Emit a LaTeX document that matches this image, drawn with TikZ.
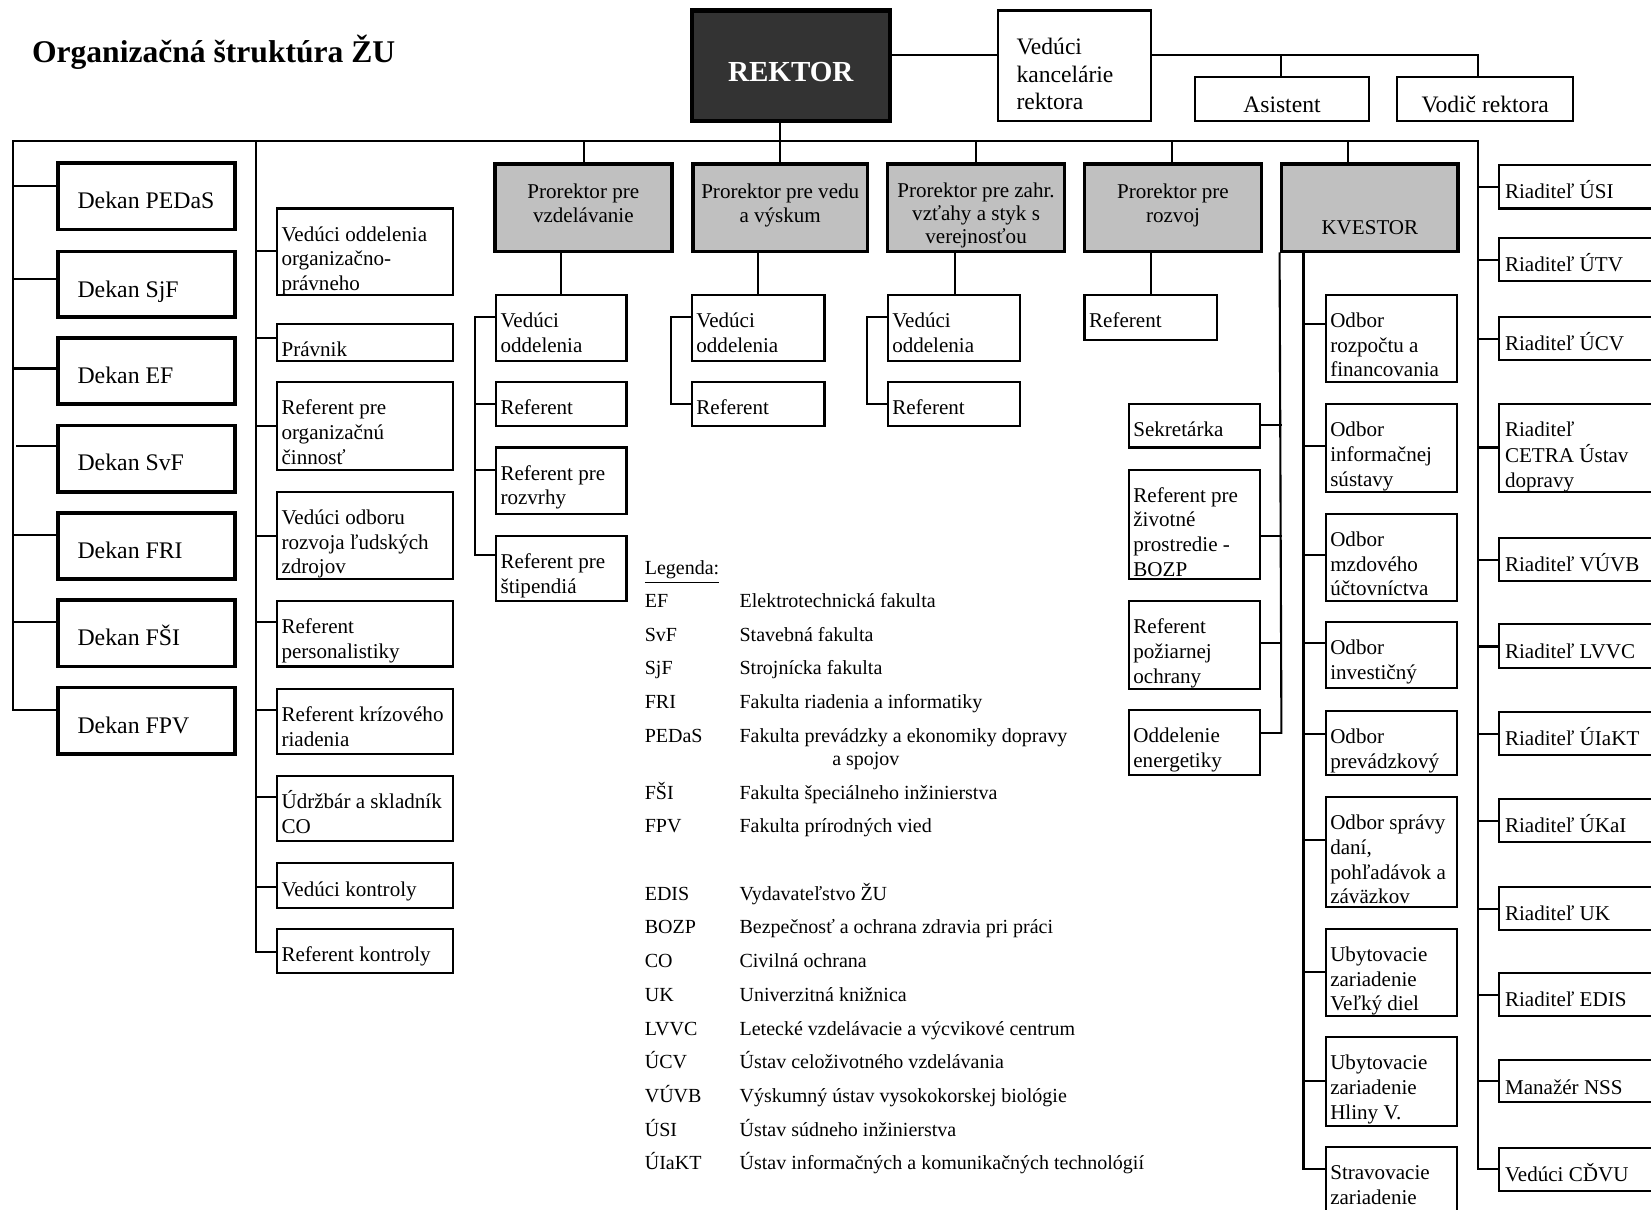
\documentclass[tikz,border=0pt]{standalone}
\usepackage{fontspec}
\setmainfont{Liberation Serif}
\definecolor{rekfill}{HTML}{333333}
\definecolor{profill}{HTML}{C0C0C0}
\newcommand\lns[1]{\begin{tabular}[t]{@{}l@{}}#1\end{tabular}}
\newcommand\clns[1]{\begin{tabular}[t]{@{}c@{}}#1\end{tabular}}
\newcommand\BOX[6][obox]{\node[#1,minimum width={(#5-#3)*0.5pt},minimum height={(#6-#4)*0.5pt}] (#2) at ({(#3+#5)/2},{(#4+#6)/2}) {};}
\newcommand\TXT[5][txt]{\node[#1] (#2-t) at ([xshift={#3*0.5pt},yshift={-#4*0.5pt}]#2.north west) {#5};}
\newcommand\CTXT[5][ctxt]{\node[#1] (#2-t) at ([xshift={#3*0.5pt},yshift={-#4*0.5pt}]#2.north) {#5};}
\newcommand\LC[3]{\coordinate (#2-j) at (#1,#3);\draw[conn] (#2-j) -- (#2-j -| #2.west);}
\newcommand\RC[3]{\coordinate (#2-j) at (#1,#3);\draw[conn] (#2-j) -- (#2-j -| #2.east);}
\begin{document}
\begin{tikzpicture}[x=0.5pt,y=-0.5pt,
  obox/.style={draw,line width=1pt,inner sep=0pt,fill=white},
  kbox/.style={draw,line width=1.75pt,inner sep=0pt,fill=white},
  pbox/.style={draw,line width=1.75pt,inner sep=0pt,fill=profill},
  rek/.style={draw,line width=2pt,inner sep=0pt,fill=rekfill},
  txt/.style={anchor=base west,inner sep=0pt,font=\fontsize{10pt}{11.75pt}\selectfont},
  dtxt/.style={txt,font=\fontsize{11.3pt}{13pt}\selectfont},
  ktxt/.style={txt,font=\fontsize{11.2pt}{13pt}\selectfont},
  ctxt/.style={anchor=base,inner sep=0pt,font=\fontsize{10pt}{11.6pt}\selectfont},
  c3txt/.style={ctxt,font=\fontsize{10pt}{11pt}\selectfont},
  katxt/.style={ctxt,font=\fontsize{11.2pt}{13pt}\selectfont},
  rtxt/.style={ctxt,text=white,font=\bfseries\fontsize{13.8pt}{16pt}\selectfont},
  leg/.style={anchor=base west,inner sep=0pt,font=\fontsize{9.5pt}{11pt}\selectfont},
  conn/.style={line width=1pt,line cap=rect}]
\useasboundingbox (0,0) rectangle (1568,1149);
\clip (0,0) rectangle (1568,1149);
\fill[white] (0,0) rectangle (1568,1149);

% title
\node[anchor=base west,inner sep=0pt,font=\bfseries\fontsize{15pt}{18pt}\selectfont] (title) at (30,59) {Organizačná štruktúra ŽU};

% top
\BOX[rek]{rektor}{657}{10}{845}{115}
\CTXT[rtxt]{rektor}{0}{69}{REKTOR}
\BOX{kanc}{948}{10}{1093}{115}
\TXT[ktxt]{kanc}{18}{43}{\lns{Vedúci\\kancelárie\\rektora}}
\BOX{asist}{1135}{73}{1300}{115}
\CTXT[katxt]{asist}{0}{35}{Asistent}
\BOX{vodic}{1327}{73}{1494}{115}
\CTXT[katxt]{vodic}{0}{35}{Vodič rektora}

% prorectors
\BOX[pbox]{p1}{470}{156}{638}{239}
\CTXT{p1}{0}{34}{\clns{Prorektor pre\\vzdelávanie}}
\BOX[pbox]{p2}{658}{156}{824}{239}
\CTXT{p2}{0}{34}{\clns{Prorektor pre vedu\\a výskum}}
\BOX[pbox]{p3}{843}{156}{1011}{239}
\CTXT[c3txt]{p3}{0}{33}{\clns{Prorektor pre zahr.\\vzťahy a styk s\\verejnosťou}}
\BOX[pbox]{p4}{1030}{156}{1198}{239}
\CTXT{p4}{0}{34}{\clns{Prorektor pre\\rozvoj}}
\BOX[pbox]{kv}{1217}{156}{1385}{239}
\CTXT{kv}{0}{68}{KVESTOR}

% deans
\BOX[kbox]{d1}{55}{155}{223}{218}\TXT[dtxt]{d1}{20}{45}{Dekan PEDaS}
\BOX[kbox]{d2}{55}{239}{223}{301}\TXT[dtxt]{d2}{20}{45}{Dekan SjF}
\BOX[kbox]{d3}{55}{321}{223}{384}\TXT[dtxt]{d3}{20}{45}{Dekan EF}
\BOX[kbox]{d4}{55}{404}{223}{467}\TXT[dtxt]{d4}{20}{45}{Dekan SvF}
\BOX[kbox]{d5}{55}{487}{223}{550}\TXT[dtxt]{d5}{20}{45}{Dekan FRI}
\BOX[kbox]{d6}{55}{570}{223}{633}\TXT[dtxt]{d6}{20}{45}{Dekan FŠI}
\BOX[kbox]{d7}{55}{653}{223}{716}\TXT[dtxt]{d7}{20}{45}{Dekan FPV}

% column 2
\BOX{c1}{263}{198}{430}{280}\TXT{c1}{5}{32}{\lns{Vedúci oddelenia\\organizačno-\\právneho}}
\BOX{c2}{263}{308}{430}{343}\TXT{c2}{5}{32}{Právnik}
\BOX{c3}{263}{363}{430}{446}\TXT{c3}{5}{32}{\lns{Referent pre\\organizačnú\\činnosť}}
\BOX{c4}{263}{467}{430}{550}\TXT{c4}{5}{32}{\lns{Vedúci odboru\\rozvoja ľudských\\zdrojov}}
\BOX{c5}{263}{571}{430}{633}\TXT{c5}{5}{32}{\lns{Referent\\personalistiky}}
\BOX{c6}{263}{654}{430}{716}\TXT{c6}{5}{32}{\lns{Referent krízového\\riadenia}}
\BOX{c7}{263}{737}{430}{799}\TXT{c7}{5}{32}{\lns{Údržbár a skladník\\CO}}
\BOX{c8}{263}{820}{430}{862}\TXT{c8}{5}{32}{Vedúci kontroly}
\BOX{c9}{263}{882}{430}{924}\TXT{c9}{5}{32}{Referent kontroly}

% under prorector 1
\BOX{v1}{471}{280}{595}{343}\TXT{v1}{5}{32}{\lns{Vedúci\\oddelenia}}
\BOX{r1}{471}{363}{595}{405}\TXT{r1}{5}{32}{Referent}
\BOX{rz}{471}{425}{595}{488}\TXT{rz}{5}{32}{\lns{Referent pre\\rozvrhy}}
\BOX{st}{471}{509}{595}{571}\TXT{st}{5}{32}{\lns{Referent pre\\štipendiá}}
% under prorector 2
\BOX{v2}{657}{280}{783}{343}\TXT{v2}{5}{32}{\lns{Vedúci\\oddelenia}}
\BOX{r2}{657}{363}{783}{405}\TXT{r2}{5}{32}{Referent}
% under prorector 3
\BOX{v3}{843}{280}{969}{343}\TXT{v3}{5}{32}{\lns{Vedúci\\oddelenia}}
\BOX{r3}{843}{363}{969}{405}\TXT{r3}{5}{32}{Referent}
% under prorector 4
\BOX{r4}{1030}{280}{1156}{323}\TXT{r4}{5}{32}{Referent}

% kvestor left
\BOX{sek}{1072}{384}{1197}{425}\TXT{sek}{5}{32}{Sekretárka}
\BOX{boz}{1072}{446}{1197}{550}\TXT{boz}{5}{32}{\lns{Referent pre\\životné\\prostredie -\\BOZP}}
\BOX{poz}{1072}{571}{1197}{654}\TXT{poz}{5}{32}{\lns{Referent\\požiarnej\\ochrany}}
\BOX{ene}{1072}{674}{1197}{736}\TXT{ene}{5}{32}{\lns{Oddelenie\\energetiky}}
% kvestor right
\BOX{o1}{1259}{280}{1384}{363}\TXT{o1}{5}{32}{\lns{Odbor\\rozpočtu a\\financovania}}
\BOX{o2}{1259}{384}{1384}{467}\TXT{o2}{5}{32}{\lns{Odbor\\informačnej\\sústavy}}
\BOX{o3}{1259}{488}{1384}{571}\TXT{o3}{5}{32}{\lns{Odbor\\mzdového\\účtovníctva}}
\BOX{o4}{1259}{591}{1384}{653}\TXT{o4}{5}{32}{\lns{Odbor\\investičný}}
\BOX{o5}{1259}{675}{1384}{736}\TXT{o5}{5}{32}{\lns{Odbor\\prevádzkový}}
\BOX{o6}{1259}{757}{1384}{861}\TXT{o6}{5}{32}{\lns{Odbor správy\\daní,\\pohľadávok a\\záväzkov}}
\BOX{o7}{1259}{882}{1384}{965}\TXT{o7}{5}{32}{\lns{Ubytovacie\\zariadenie\\Veľký diel}}
\BOX{o8}{1259}{985}{1384}{1069}\TXT{o8}{5}{32}{\lns{Ubytovacie\\zariadenie\\Hliny V.}}
\BOX{o9}{1259}{1089}{1384}{1190}\TXT{o9}{5}{32}{\lns{Stravovacie\\zariadenie}}

% right column
\BOX{q1}{1424}{157}{1600}{198}\TXT{q1}{6}{33}{Riaditeľ ÚSI}
\BOX{q2}{1424}{226}{1600}{267}\TXT{q2}{6}{33}{Riaditeľ ÚTV}
\BOX{q3}{1424}{301}{1600}{342}\TXT{q3}{6}{33}{Riaditeľ ÚCV}
\BOX{q4}{1424}{384}{1600}{467}\TXT{q4}{6}{32}{\lns{Riaditeľ\\CETRA Ústav\\dopravy}}
\BOX{q5}{1424}{511}{1600}{552}\TXT{q5}{6}{33}{Riaditeľ VÚVB}
\BOX{q6}{1424}{593}{1600}{634}\TXT{q6}{6}{33}{Riaditeľ LVVC}
\BOX{q7}{1424}{676}{1600}{717}\TXT{q7}{6}{33}{Riaditeľ ÚIaKT}
\BOX{q8}{1424}{759}{1600}{800}\TXT{q8}{6}{33}{Riaditeľ ÚKaI}
\BOX{q9}{1424}{842}{1600}{883}\TXT{q9}{6}{33}{Riaditeľ UK}
\BOX{q10}{1424}{924}{1600}{965}\TXT{q10}{6}{33}{Riaditeľ EDIS}
\BOX{q11}{1424}{1007}{1600}{1047}\TXT{q11}{6}{33}{Manažér NSS}
\BOX{q12}{1424}{1090}{1600}{1131}\TXT{q12}{6}{33}{Vedúci CĎVU}

% ---------- connectors ----------
\coordinate (r1c) at (845,52);
\draw[conn] (r1c -| rektor.east) -- (r1c -| kanc.west);
\coordinate (k2) at (1404,52);
\draw[conn] (r1c -| kanc.east) -- (k2) -- (k2 |- vodic.north);
\coordinate (k3) at (1217,52);
\draw[conn] (k3) -- (k3 |- asist.north);
\coordinate (busL) at (12,134);
\coordinate (busR) at (1404,134);
\coordinate (rd) at (741,134);
\draw[conn] (rd |- rektor.south) -- (rd);
\draw[conn] (busL) -- (busR);
\foreach \p/\x in {p1/555,p2/741,p3/927,p4/1113,kv/1280}{
  \coordinate (bd\p) at (\x,134);
  \draw[conn] (bd\p) -- (bd\p |- \p.north);
}
% deans
\LC{12}{d1}{177}\LC{12}{d2}{265}\LC{12}{d3}{350}\LC{16}{d4}{424}
\LC{12}{d5}{508}\LC{12}{d6}{591}\LC{12}{d7}{674}
\draw[conn] (busL) -- (d7-j);
% column 2
\coordinate (b2) at (243,134);
\LC{243}{c1}{238}\LC{243}{c2}{321}\LC{243}{c3}{405}\LC{243}{c4}{509}
\LC{243}{c5}{591}\LC{243}{c6}{674}\LC{243}{c7}{757}\LC{243}{c8}{842}\LC{243}{c9}{904}
\draw[conn] (b2) -- (c9-j);
% prorector 1
\coordinate (p1d) at (533,0);
\draw[conn] (p1.south -| p1d) -- (v1.north -| p1d);
\LC{451}{v1}{301}\LC{451}{r1}{384}\LC{451}{rz}{446}\LC{451}{st}{527}
\draw[conn] (v1-j) -- (st-j);
% prorector 2
\coordinate (p2d) at (720,0);
\draw[conn] (p2.south -| p2d) -- (v2.north -| p2d);
\LC{637}{v2}{301}\LC{637}{r2}{384}
\draw[conn] (v2-j) -- (r2-j);
% prorector 3
\coordinate (p3d) at (907,0);
\draw[conn] (p3.south -| p3d) -- (v3.north -| p3d);
\LC{823}{v3}{301}\LC{823}{r3}{384}
\draw[conn] (v3-j) -- (r3-j);
% prorector 4
\coordinate (p4d) at (1093,0);
\draw[conn] (p4.south -| p4d) -- (r4.north -| p4d);
% kvestor
\RC{1217}{sek}{404}\RC{1217}{boz}{509}\RC{1217}{poz}{611}\RC{1217}{ene}{696}
\draw[conn] (kv.south west) -- (ene-j);
\LC{1238}{o1}{308}\LC{1238}{o2}{424}\LC{1238}{o3}{527}\LC{1238}{o4}{611}
\LC{1238}{o5}{697}\LC{1238}{o6}{798}\LC{1238}{o7}{923}\LC{1238}{o8}{1027}\LC{1238}{o9}{1110}
\coordinate (kvr) at (kv.south -| o1-j);
\draw[conn] (kvr) -- (o9-j);
% right column
\LC{1404}{q1}{178}\LC{1404}{q2}{247}\LC{1404}{q3}{322}\LC{1404}{q4}{425}
\LC{1404}{q5}{532}\LC{1404}{q6}{614}\LC{1404}{q7}{697}\LC{1404}{q8}{780}
\LC{1404}{q9}{863}\LC{1404}{q10}{945}\LC{1404}{q11}{1027}\LC{1404}{q12}{1110}
\draw[conn] (busR) -- (q12-j);

% ---------- legend ----------
\node[leg] (lgh) at (612,546) {\underline{Legenda:}};
\foreach \n/\y/\a/\b in {
  1/577/EF/Elektrotechnická fakulta,
  2/609/SvF/Stavebná fakulta,
  3/641/SjF/Strojnícka fakulta,
  4/673/FRI/Fakulta riadenia a informatiky,
  5/705/PEDaS/Fakulta prevádzky a ekonomiky dopravy,
  6/759/FŠI/Fakulta špeciálneho inžinierstva,
  7/791/FPV/Fakulta prírodných vied,
  8/855/EDIS/Vydavateľstvo ŽU,
  9/887/BOZP/Bezpečnosť a ochrana zdravia pri práci,
  10/919/CO/Civilná ochrana,
  11/951/UK/Univerzitná knižnica,
  12/983/LVVC/Letecké vzdelávacie a výcvikové centrum,
  13/1015/ÚCV/Ústav celoživotného vzdelávania,
  14/1047/VÚVB/Výskumný ústav vysokokorskej biológie,
  15/1079/ÚSI/Ústav súdneho inžinierstva,
  16/1111/ÚIaKT/Ústav informačných a komunikačných technológií}{
  \node[leg] (lga\n) at (612,\y) {\a};
  \node[leg] (lgb\n) at (702,\y) {\b};
}
\node[leg] (lgb5b) at (790,727) {a spojov};
\end{tikzpicture}
\end{document}
